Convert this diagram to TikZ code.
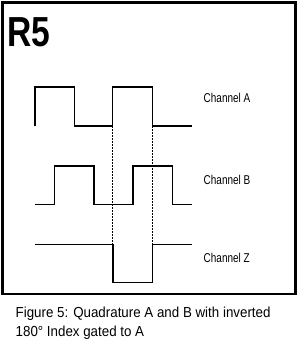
\documentclass[tikz,border=0pt]{standalone}
\usepackage{fontspec}
\setmainfont{Liberation Sans}
\newfontfamily\titlefont[FakeStretch=0.8]{Liberation Sans}
\newfontfamily\chanfont[FakeStretch=0.78]{Liberation Sans}
\newfontfamily\capfont[FakeStretch=0.92]{Liberation Sans}
\begin{document}
\begin{tikzpicture}[x=1pt,y=-1pt,
  wave/.style={line width=1.4pt,line join=miter,line cap=butt},
  gate/.style={line width=0.9pt,dash pattern=on 2pt off 1pt,black},
  frame/.style={line width=2.8pt},
  chan/.style={anchor=base west,inner sep=0pt,font=\chanfont\fontsize{12.8}{14}\selectfont},
  captext/.style={anchor=base west,inner sep=0pt,font=\capfont\fontsize{14.5}{17}\selectfont}]
\useasboundingbox (0,0) rectangle (300,341);
\fill[white] (0,0) rectangle (300,341);
\draw[frame] (2.8,2.8) rectangle (295.7,294);
\node[anchor=base west,inner sep=0pt,font=\titlefont\bfseries\fontsize{42}{44}\selectfont] (title) at (7.5,46) {R5};
% Channel A
\draw[wave] (35,126) -- (35,87) -- (74.3,87) -- (74.3,126) -- (112.7,126) -- (112.7,87) -- (152.7,87) -- (152.7,126) -- (191.7,126);
% Channel B
\draw[wave] (34.5,204.3) -- (54.6,204.3) -- (54.6,166) -- (93.8,166) -- (93.8,204.3) -- (133,204.3) -- (133,166) -- (172.3,166) -- (172.3,204.3) -- (191.7,204.3);
% Channel Z
\draw[wave] (34.5,244.3) -- (113,244.3) -- (113,282.7) -- (152.5,282.7) -- (152.5,244.3) -- (191.7,244.3);
% gating lines
\draw[gate] (112.8,126) -- (112.8,244.3);
\draw[gate] (152.6,126) -- (152.6,244.3);
\node[chan] (la) at (203.5,102.7) {Channel A};
\node[chan] (lb) at (203.5,184.5) {Channel B};
\node[chan] (lz) at (203.5,262) {Channel Z};
\node[captext] (c1) at (15.5,317.3) {Figure 5: Quadrature A and B with inverted};
\node[captext] (c2) at (15.5,336) {180° Index gated to A};
\end{tikzpicture}
\end{document}
